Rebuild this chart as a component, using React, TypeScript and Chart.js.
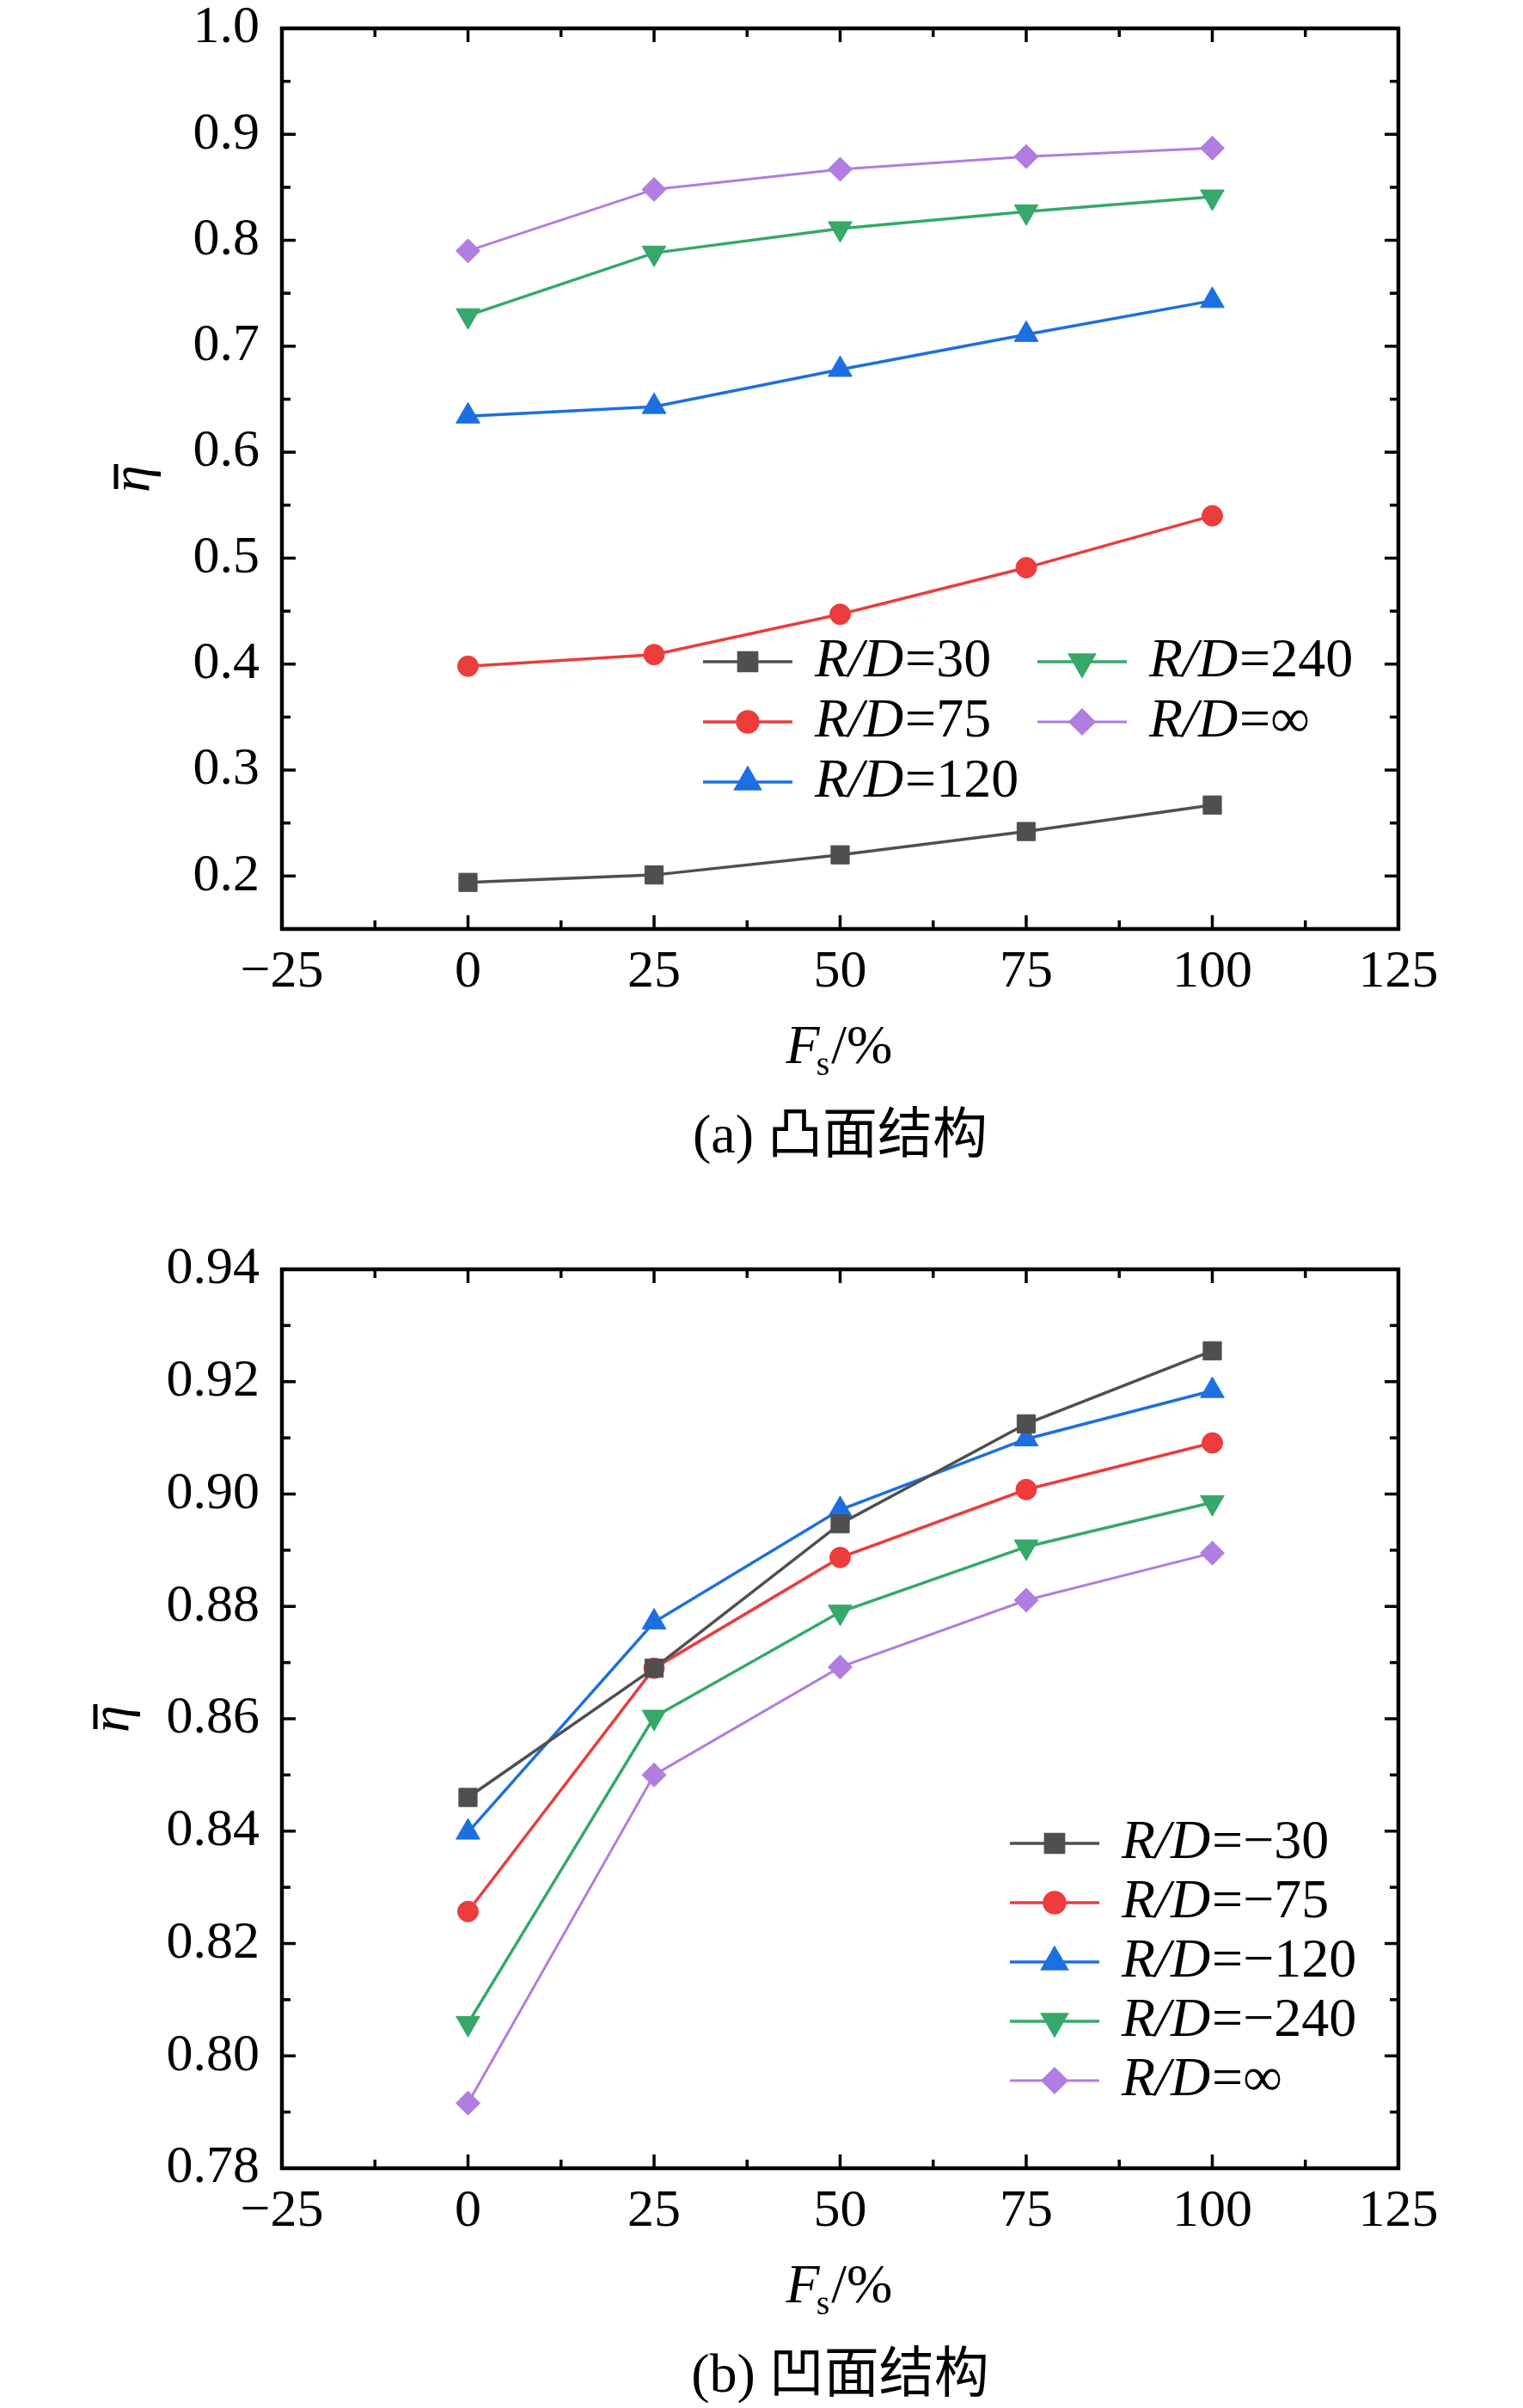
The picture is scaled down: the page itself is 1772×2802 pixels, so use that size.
import React, { useEffect, useRef } from "react";
import { Chart, registerables } from "chart.js";
import { drawPoint } from "chart.js/helpers";

Chart.register(...registerables);

// x values (F_s, %) shared by both panels
const FS = [0, 25, 50, 75, 100];
const X_TICKS = [-25, 0, 25, 50, 75, 100, 125];
const X_TICK_LABELS = ["−25", "0", "25", "50", "75", "100", "125"];

// (a) convex
const CONVEX_LABELS = ["R/D=30", "R/D=75", "R/D=120", "R/D=240", "R/D=∞"];
const CONVEX_30 = [0.194, 0.201, 0.22, 0.242, 0.267];
const CONVEX_75 = [0.398, 0.409, 0.447, 0.491, 0.54];
const CONVEX_120 = [0.634, 0.643, 0.678, 0.711, 0.743];
const CONVEX_240 = [0.729, 0.788, 0.811, 0.827, 0.841];
const CONVEX_INF = [0.79, 0.848, 0.867, 0.879, 0.887];
const CONVEX_Y_TICKS = [0.2, 0.3, 0.4, 0.5, 0.6, 0.7, 0.8, 0.9, 1.0];
const CONVEX_Y_LABELS = ["0.2", "0.3", "0.4", "0.5", "0.6", "0.7", "0.8", "0.9", "1.0"];

// (b) concave
const CONCAVE_LABELS = ["R/D=−30", "R/D=−75", "R/D=−120", "R/D=−240", "R/D=∞"];
const CONCAVE_30 = [0.846, 0.869, 0.8947, 0.9125, 0.9255];
const CONCAVE_75 = [0.8257, 0.869, 0.8887, 0.9008, 0.9091];
const CONCAVE_120 = [0.8398, 0.8772, 0.8972, 0.9098, 0.9184];
const CONCAVE_240 = [0.8058, 0.8603, 0.879, 0.8906, 0.8985];
const CONCAVE_INF = [0.7916, 0.85, 0.8692, 0.8811, 0.8895];
const CONCAVE_Y_TICKS = [0.78, 0.8, 0.82, 0.84, 0.86, 0.88, 0.9, 0.92, 0.94];
const CONCAVE_Y_LABELS = ["0.78", "0.80", "0.82", "0.84", "0.86", "0.88", "0.90", "0.92", "0.94"];

const SERIF = '"Liberation Serif", "Times New Roman", serif';

const STYLES = [
  { color: "#4f4f4f", pointStyle: "rect", radius: 15, rotation: 0, width: 3.5 },
  { color: "#ec3c3c", pointStyle: "circle", radius: 12, rotation: 0, width: 3.5 },
  { color: "#1c6fe0", pointStyle: "triangle", radius: 16, rotation: 0, width: 3.5 },
  { color: "#35a86a", pointStyle: "triangle", radius: 16, rotation: 180, width: 3.5 },
  { color: "#b07de0", pointStyle: "rectRot", radius: 14, rotation: 0, width: 3 },
];

const midpoints = (arr: number[]) => arr.slice(1).map((v, i) => (v + arr[i]) / 2);

const framePlugin = {
  id: "frame",
  afterDraw(chart: any, _args: any, opts: any) {
    const { ctx, chartArea: a, scales } = chart;
    const xs = scales.x;
    const ys = scales.y;
    ctx.save();
    ctx.strokeStyle = "#000";
    ctx.fillStyle = "#000";
    ctx.lineCap = "butt";

    const seg = (x1: number, y1: number, x2: number, y2: number) => {
      ctx.beginPath();
      ctx.moveTo(x1, y1);
      ctx.lineTo(x2, y2);
      ctx.stroke();
    };

    // inward ticks on all four sides
    ctx.lineWidth = 3.5;
    const yMajor: number[] = opts.yTicks;
    const xTick = (v: number, len: number) => {
      const p = xs.getPixelForValue(v);
      seg(p, a.bottom, p, a.bottom - len);
      seg(p, a.top, p, a.top + len);
    };
    const yTick = (v: number, len: number) => {
      const p = ys.getPixelForValue(v);
      seg(a.left, p, a.left + len, p);
      seg(a.right, p, a.right - len, p);
    };
    X_TICKS.forEach((v) => xTick(v, 16));
    midpoints(X_TICKS).forEach((v) => xTick(v, 10));
    yMajor.forEach((v) => yTick(v, 16));
    midpoints(yMajor).forEach((v) => yTick(v, 10));

    ctx.lineWidth = 4.5;
    ctx.strokeRect(a.left, a.top, a.right - a.left, a.bottom - a.top);

    // y title: eta with an overbar, rotated
    ctx.save();
    ctx.font = `italic 64px ${SERIF}`;
    ctx.translate(opts.yTitleX, (a.top + a.bottom) / 2);
    ctx.rotate(-Math.PI / 2);
    ctx.textAlign = "center";
    ctx.textBaseline = "alphabetic";
    ctx.fillText("η", 0, 13);
    ctx.lineWidth = 5;
    seg(-12, -25, 17, -25);
    ctx.restore();

    // x title  F_s/%
    const cx = (a.left + a.right) / 2;
    const base = a.bottom + 156;
    ctx.textAlign = "left";
    ctx.textBaseline = "alphabetic";
    const fItal = `italic 64px ${SERIF}`;
    const fSub = `40px ${SERIF}`;
    const fReg = `64px ${SERIF}`;
    ctx.font = fItal;
    const wF = ctx.measureText("F").width;
    ctx.font = fSub;
    const wS = ctx.measureText("s").width;
    ctx.font = fReg;
    const wP = ctx.measureText("/%").width;
    let tx = cx - (wF + wS + wP) / 2;
    ctx.font = fItal;
    ctx.fillText("F", tx, base);
    tx += wF - 4;
    ctx.font = fSub;
    ctx.fillText("s", tx, base + 14);
    tx += wS + 2;
    ctx.font = fReg;
    ctx.fillText("/%", tx, base);

    // caption
    ctx.textAlign = "center";
    ctx.font = `64px "Liberation Serif", "Noto Sans CJK SC", serif`;
    ctx.fillText(opts.caption, cx, a.bottom + 260);

    // legend
    const lg = opts.legend;
    chart.data.datasets.forEach((ds: any, i: number) => {
      const col = Math.floor(i / lg.perCol);
      const row = i % lg.perCol;
      const x0 = lg.x[col];
      const y0 = lg.y0 + row * lg.dy;
      ctx.strokeStyle = ds.borderColor;
      ctx.fillStyle = ds.borderColor;
      ctx.lineWidth = ds.borderWidth;
      seg(x0, y0, x0 + 104, y0);
      drawPoint(
        ctx,
        {
          pointStyle: ds.pointStyle,
          radius: ds.pointRadius,
          rotation: ds.pointRotation,
          borderWidth: 1,
        } as any,
        x0 + 52,
        y0
      );
      const label: string = ds.label;
      const k = label.indexOf("=");
      const ital = label.slice(0, k);
      const rest = label.slice(k);
      ctx.fillStyle = "#000";
      ctx.textAlign = "left";
      ctx.textBaseline = "alphabetic";
      ctx.font = fItal;
      const tx0 = x0 + 130;
      ctx.fillText(ital, tx0, y0 + 17);
      const wI = ctx.measureText(ital).width;
      ctx.font = fReg;
      ctx.fillText(rest, tx0 + wI + 2, y0 + 17);
    });

    ctx.restore();
  },
};

type PanelProps = {
  height: number;
  padTop: number;
  padBottom: number;
  labels: string[];
  series: number[][];
  yMin: number;
  yMax: number;
  yTicks: number[];
  yLabels: string[];
  yTitleX: number;
  caption: string;
  legend: { x: number[]; y0: number; dy: number; perCol: number };
};

const Panel: React.FC<PanelProps> = (p) => {
  const canvasRef = useRef<HTMLCanvasElement | null>(null);
  const chartRef = useRef<Chart | null>(null);

  useEffect(() => {
    if (!canvasRef.current) return;
    if (chartRef.current) chartRef.current.destroy();

    const datasets = p.series.map((vals, i) => {
      const st = STYLES[i];
      return {
        label: p.labels[i],
        data: FS.map((x, j) => ({ x, y: vals[j] })),
        borderColor: st.color,
        backgroundColor: st.color,
        pointBackgroundColor: st.color,
        pointBorderColor: st.color,
        pointBorderWidth: 1,
        pointStyle: st.pointStyle,
        pointRadius: st.radius,
        pointRotation: st.rotation,
        borderWidth: st.width,
        tension: 0,
        clip: false as any,
      };
    });

    const tickFont = { family: SERIF, size: 62 };

    chartRef.current = new Chart(canvasRef.current, {
      type: "line",
      data: { datasets: datasets as any },
      options: {
        animation: false,
        responsive: true,
        maintainAspectRatio: false,
        layout: { padding: { left: 128, right: 145, top: p.padTop, bottom: p.padBottom } },
        plugins: {
          legend: { display: false },
          tooltip: { enabled: false },
          frame: {
            yTicks: p.yTicks,
            yTitleX: p.yTitleX,
            caption: p.caption,
            legend: p.legend,
          },
        } as any,
        scales: {
          x: {
            type: "linear",
            min: -25,
            max: 125,
            grid: { display: false, drawTicks: false },
            border: { display: false },
            afterBuildTicks: (s: any) => {
              s.ticks = X_TICKS.map((v) => ({ value: v }));
            },
            afterFit: (s: any) => {
              s.height = 100;
              s.paddingLeft = 0;
              s.paddingRight = 0;
            },
            ticks: {
              padding: 14,
              color: "#000",
              font: tickFont,
              maxRotation: 0,
              autoSkip: false,
              callback: (_v: any, i: number) => X_TICK_LABELS[i],
            },
          },
          y: {
            type: "linear",
            min: p.yMin,
            max: p.yMax,
            grid: { display: false, drawTicks: false },
            border: { display: false },
            afterBuildTicks: (s: any) => {
              s.ticks = p.yTicks.map((v) => ({ value: v }));
            },
            afterFit: (s: any) => {
              s.width = 200;
              s.paddingTop = 0;
              s.paddingBottom = 0;
            },
            ticks: {
              padding: 26,
              color: "#000",
              font: tickFont,
              autoSkip: false,
              callback: (_v: any, i: number) => p.yLabels[i],
            },
          },
        },
      },
      plugins: [framePlugin as any],
    });

    return () => {
      if (chartRef.current) {
        chartRef.current.destroy();
        chartRef.current = null;
      }
    };
  }, []);

  return (
    <div style={{ position: "relative", width: 1772, height: p.height }}>
      <canvas ref={canvasRef}></canvas>
    </div>
  );
};

const App: React.FC = () => {
  return (
    <div style={{ position: "absolute", left: 0, top: 0, width: 1772, height: 2802, background: "#fff" }}>
      <Panel
        height={1400}
        padTop={33}
        padBottom={219}
        labels={CONVEX_LABELS}
        series={[CONVEX_30, CONVEX_75, CONVEX_120, CONVEX_240, CONVEX_INF]}
        yMin={0.15}
        yMax={1.0}
        yTicks={CONVEX_Y_TICKS}
        yLabels={CONVEX_Y_LABELS}
        yTitleX={160}
        caption="(a) 凸面结构"
        legend={{ x: [818, 1207], y0: 770, dy: 70, perCol: 3 }}
      />
      <Panel
        height={1402}
        padTop={77}
        padBottom={179}
        labels={CONCAVE_LABELS}
        series={[CONCAVE_30, CONCAVE_75, CONCAVE_120, CONCAVE_240, CONCAVE_INF]}
        yMin={0.78}
        yMax={0.94}
        yTicks={CONCAVE_Y_TICKS}
        yLabels={CONCAVE_Y_LABELS}
        yTitleX={136}
        caption="(b) 凹面结构"
        legend={{ x: [1175], y0: 745, dy: 69, perCol: 5 }}
      />
    </div>
  );
};

export default App;
